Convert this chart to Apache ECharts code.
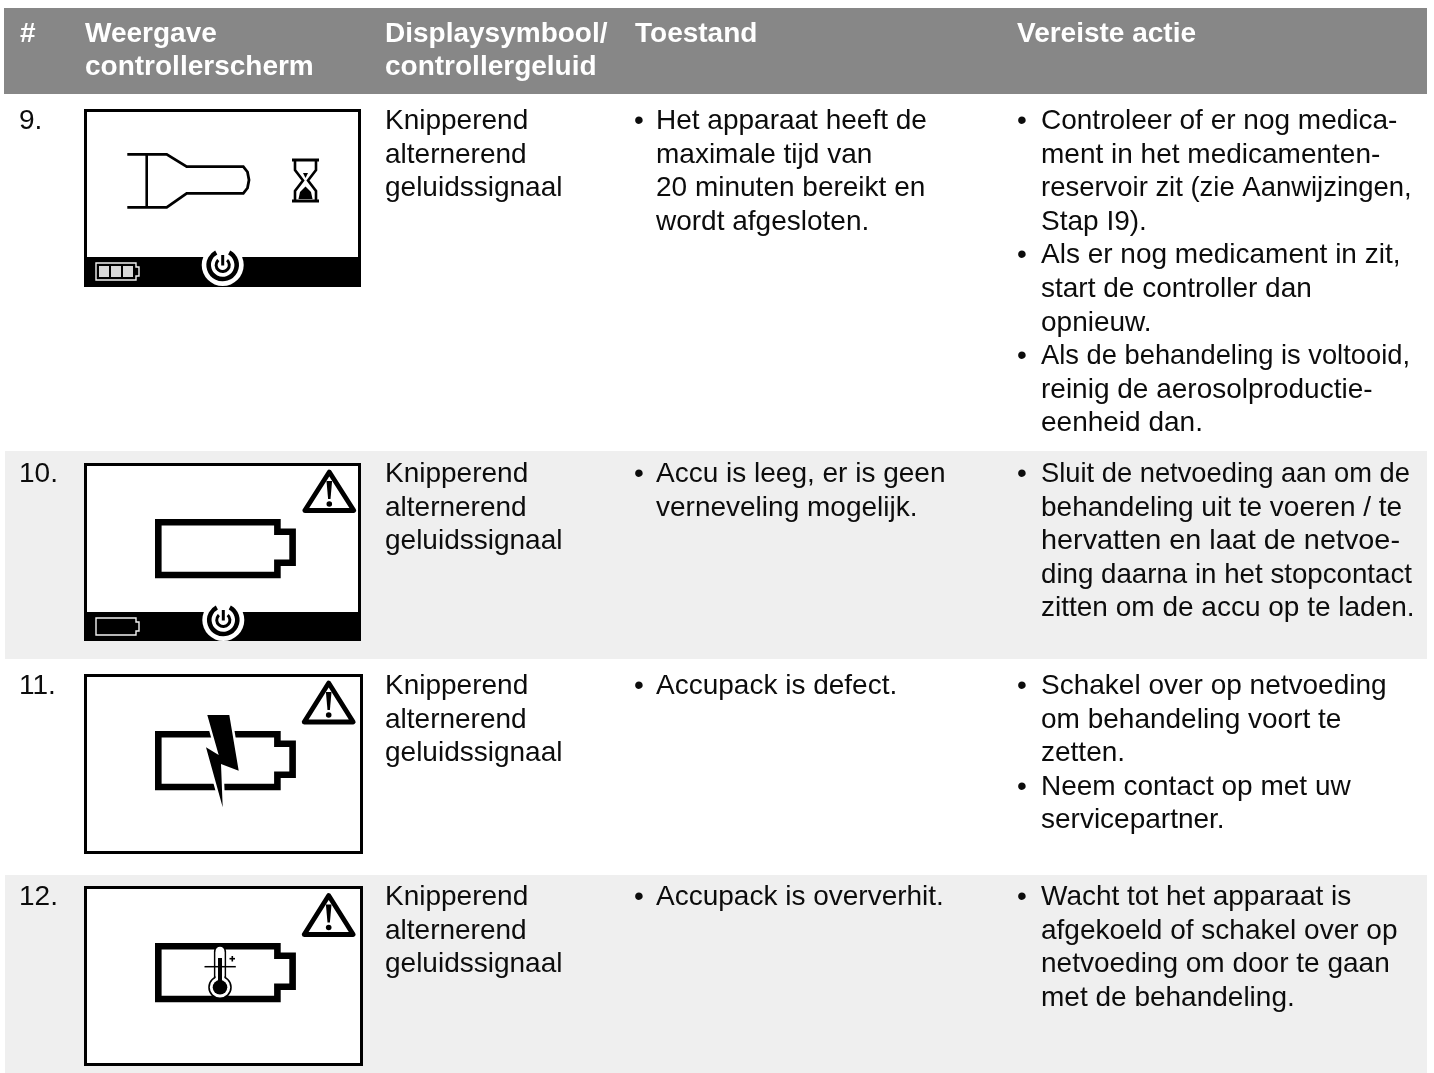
<!DOCTYPE html>
<html>
<head>
<meta charset="utf-8">
<style>html,body{margin:0;padding:0;background:#fff}#c{width:1434px;height:1073px}</style>
<script src="https://cdn.jsdelivr.net/npm/echarts@6/dist/echarts.min.js"></script>
</head>
<body>
<div id="c"></div>
<script>
const headerNum = ['#'];
const headerScreen = ['Weergave', 'controllerscherm'];
const headerSymbol = ['Displaysymbool/', 'controllergeluid'];
const headerState = ['Toestand'];
const headerAction = ['Vereiste actie'];

const rowNumbers = ['9.', '10.', '11.', '12.'];
const symbolLines = ['Knipperend', 'alternerend', 'geluidssignaal'];

const stateRow9 = [['Het apparaat heeft de', 'maximale tijd van', '20 minuten bereikt en', 'wordt afgesloten.']];
const stateRow10 = [['Accu is leeg, er is geen', 'verneveling mogelijk.']];
const stateRow11 = [['Accupack is defect.']];
const stateRow12 = [['Accupack is oververhit.']];

const actionRow9 = [
  ['Controleer of er nog medica-', 'ment in het medicamenten-', 'reservoir zit (zie Aanwijzingen,', 'Stap I9).'],
  ['Als er nog medicament in zit,', 'start de controller dan', 'opnieuw.'],
  ['Als de behandeling is voltooid,', 'reinig de aerosolproductie-', 'eenheid dan.']
];
const actionRow10 = [['Sluit de netvoeding aan om de', 'behandeling uit te voeren / te', 'hervatten en laat de netvoe-', 'ding daarna in het stopcontact', 'zitten om de accu op te laden.']];
const actionRow11 = [['Schakel over op netvoeding', 'om behandeling voort te', 'zetten.'], ['Neem contact op met uw', 'servicepartner.']];
const actionRow12 = [['Wacht tot het apparaat is', 'afgekoeld of schakel over op', 'netvoeding om door te gaan', 'met de behandeling.']];

const states = [stateRow9, stateRow10, stateRow11, stateRow12];
const actions = [actionRow9, actionRow10, actionRow11, actionRow12];

/* justified lines in the source: right edge each line reaches */
const fittedLines = {
  'reservoir zit (zie Aanwijzingen,': 1411.7,
  'Als de behandeling is voltooid,': 1410,
  'Sluit de netvoeding aan om de': 1410,
  'hervatten en laat de netvoe-': 1400,
  'ding daarna in het stopcontact': 1412
};

const FONT = '"Liberation Sans", Arial, sans-serif';
const SIZE = 28, LH = 33.55;
const els = [];
const meter = document.createElement('canvas').getContext('2d');
meter.font = SIZE + 'px ' + FONT;

function text(x, y, s, opt) {
  opt = opt || {};
  let sx = 1;
  if (fittedLines[s]) sx = (fittedLines[s] - x) / meter.measureText(s).width;
  els.push({type: 'text', x: x, y: y, scaleX: sx, z: 5, style: {
    text: s, fill: opt.fill || '#0c0c0c', fontFamily: FONT, fontSize: SIZE,
    fontWeight: opt.bold ? 'bold' : 'normal', verticalAlign: 'middle', align: 'left'}});
}
function rect(x, y, w, h, fill, stroke, lw) {
  els.push({type: 'rect', shape: {x: x, y: y, width: w, height: h}, z: 2,
    style: {fill: fill || 'none', stroke: stroke || 'none', lineWidth: lw || 0}});
}
function poly(pts, o) {
  els.push({type: o.closed ? 'polygon' : 'polyline', shape: {points: pts}, z: 2,
    style: {fill: o.fill || 'none', stroke: o.stroke || 'none', lineWidth: o.lw || 0,
      lineJoin: o.join || 'miter', lineCap: o.cap || 'butt'}});
}
function circle(cx, cy, r, fill, stroke, lw) {
  els.push({type: 'circle', shape: {cx: cx, cy: cy, r: r}, z: 2,
    style: {fill: fill || 'none', stroke: stroke || 'none', lineWidth: lw || 0}});
}
function arc(cx, cy, r, gap, lw) {
  els.push({type: 'arc', shape: {cx: cx, cy: cy, r: r, startAngle: -Math.PI / 2 + gap, endAngle: Math.PI * 1.5 - gap, clockwise: true}, z: 2,
    style: {fill: 'none', stroke: '#000', lineWidth: lw}});
}
function frame(x0, y0, x1, y1) {
  rect(x0 + 1.5, y0 + 1.5, x1 - x0 - 3, y1 - y0 - 3, '#fff', '#000', 3);
}
function bar(x0, y0, x1, y1) { rect(x0, y0, x1 - x0, y1 - y0, '#000'); }
function power(cx, cy) {
  circle(cx, cy, 21, '#fff');
  arc(cx, cy, 14, 0.48, 4.6);
  arc(cx, cy, 6.6, 0.72, 3);
  poly([[cx, cy - 10], [cx, cy + 0.5]], {stroke: '#000', lw: 3});
}
function smallBattery(x, y, h, cells) {
  poly([[x, y], [x + 40, y], [x + 40, y + 4], [x + 43, y + 4], [x + 43, y + h - 4], [x + 40, y + h - 4], [x + 40, y + h], [x, y + h]],
    {closed: true, stroke: '#f2f2f2', lw: 1.4});
  if (cells) {
    [3, 15, 27].forEach(function (d) { rect(x + d, y + 3, 10, h - 6, '#d8d8d8'); });
  }
}
function battery(t) {
  poly([[158.3, t + 3.3], [277.4, t + 3.3], [277.4, t + 12.7], [292.6, t + 12.7], [292.6, t + 43.7], [277.4, t + 43.7], [277.4, t + 56], [158.3, t + 56]],
    {closed: true, stroke: '#000', lw: 6.6});
}
function warning(x, top, base) {
  poly([[x, top + 3], [x + 24.5, base - 3], [x - 24.5, base - 3]], {closed: true, stroke: '#000', lw: 4.8, join: 'round', fill: '#fff'});
  poly([[x - 2.8, top + 12], [x + 2.8, top + 12], [x + 1.2, top + 30], [x - 1.2, top + 30]], {closed: true, fill: '#000'});
  circle(x, top + 35, 2.8, '#000');
}

/* bands */
rect(4, 8, 1423, 86, '#878787');
rect(5, 451, 1422, 208, '#efefef');
rect(5, 875, 1422, 198, '#efefef');

/* header */
const headY = [34.5, 67.5];
headerNum.forEach((s, i) => text(20, headY[i], s, {fill: '#fff', bold: true}));
headerScreen.forEach((s, i) => text(85, headY[i], s, {fill: '#fff', bold: true}));
headerSymbol.forEach((s, i) => text(385, headY[i], s, {fill: '#fff', bold: true}));
headerState.forEach((s, i) => text(635, headY[i], s, {fill: '#fff', bold: true}));
headerAction.forEach((s, i) => text(1017, headY[i], s, {fill: '#fff', bold: true}));

/* body text */
const rowY = [121.5, 474.5, 686.5, 897.5];
rowNumbers.forEach(function (n, r) {
  const y = rowY[r];
  text(19, y, n);
  symbolLines.forEach((s, i) => text(385, y + i * LH, s));
  function bullets(list, bx, tx) {
    let k = 0;
    list.forEach(function (lines) {
      text(bx, y + k * LH, '•');
      lines.forEach(function (s) { text(tx, y + k * LH, s); k++; });
    });
  }
  bullets(states[r], 634, 656);
  bullets(actions[r], 1017, 1041);
});

/* row 9 screen */
frame(84, 109, 361, 287);
bar(84, 257, 361, 287);
poly([[127.3, 154.3], [166.7, 154.3], [186.7, 166.7], [243.3, 166.7], [247.5, 172], [249, 180], [247.5, 188], [243.3, 193.3], [186.7, 193.3], [166.7, 207.3], [127.3, 207.3]], {stroke: '#000', lw: 2.8});
poly([[146.7, 154.3], [146.7, 207.3]], {stroke: '#000', lw: 2.6});
poly([[292, 160], [319, 160]], {stroke: '#000', lw: 3});
poly([[292, 201], [319, 201]], {stroke: '#000', lw: 3});
poly([[295, 160], [295, 170], [303, 180.5], [295, 191], [295, 201]], {stroke: '#000', lw: 2.6});
poly([[316, 160], [316, 170], [308, 180.5], [316, 191], [316, 201]], {stroke: '#000', lw: 2.6});
poly([[298.5, 199], [300, 192], [305.5, 186.5], [311, 192], [312.5, 199]], {closed: true, fill: '#000'});
poly([[303, 173], [308, 173], [305.5, 178]], {closed: true, fill: '#000'});
power(222.7, 265);
smallBattery(96, 263, 17, true);

/* row 10 screen */
frame(84, 463, 361, 641);
bar(84, 612, 361, 641);
battery(519);
warning(329.3, 469, 513.5);
power(223.3, 620);
smallBattery(96, 618, 17, false);

/* row 11 screen */
frame(84, 674, 363, 854);
battery(731);
warning(328.7, 680, 725);
const bolt = [[207.3, 715], [229.3, 715], [238.7, 770.7], [221, 764], [222.7, 807.3], [206, 747.3], [218.7, 755]];
poly(bolt, {closed: true, stroke: '#fff', lw: 5});
poly(bolt, {closed: true, fill: '#000'});

/* row 12 screen */
frame(84, 886, 363, 1066);
battery(943);
warning(328.7, 892.5, 937.5);
els.push({type: 'rect', shape: {x: 214.7, y: 946, width: 10.6, height: 40, r: 5.3}, z: 2, style: {fill: '#fff', stroke: '#000', lineWidth: 1.6}});
circle(220, 987.3, 11, '#fff', '#000', 1.6);
rect(215.7, 952, 8.6, 34, '#fff');
circle(220, 987.3, 7.3, '#000');
rect(218, 958, 4, 28, '#000');
poly([[204.5, 966.7], [235.8, 966.7]], {stroke: '#000', lw: 1.5});
poly([[229.5, 958.7], [235, 958.7]], {stroke: '#000', lw: 1.6});
poly([[232.3, 956], [232.3, 961.5]], {stroke: '#000', lw: 1.6});

const chart = echarts.init(document.getElementById('c'), null, {renderer: 'canvas', width: 1434, height: 1073});
chart.setOption({animation: false, backgroundColor: '#fff', graphic: {elements: els}});
</script>
</body>
</html>
